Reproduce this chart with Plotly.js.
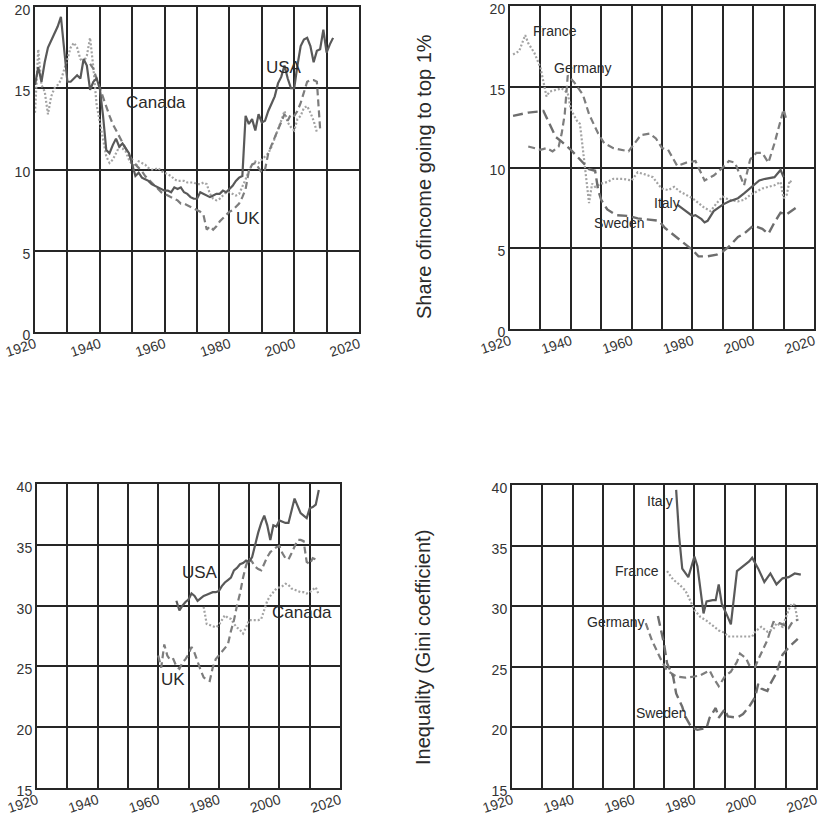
<!DOCTYPE html>
<html>
<head>
<meta charset="utf-8">
<script src="https://cdn.plot.ly/plotly-3.0.1.min.js"></script>
<style>
  html, body { margin: 0; padding: 0; background: #fff; }
  #chart { width: 821px; height: 818px; }
</style>
</head>
<body>
<div id="chart"></div>
<script>
// ---- Share of income going to top 1% : USA, Canada, UK ----
const usaTopYears = [1920,1921,1922,1923,1924,1925,1926,1927,1928,1929,1930,1931,1932,1933,1934,1935,1936,1937,1938,1939,
  1940,1941,1942,1943,1944,1945,1946,1947,1948,1949,1950,1951,1952,1953,1954,1955,1956,1957,1958,1959,
  1960,1961,1962,1963,1964,1965,1966,1967,1968,1969,1970,1971,1972,1973,1974,1975,1976,1977,1978,1979,
  1980,1981,1982,1983,1984,1985,1986,1987,1988,1989,1990,1991,1992,1993,1994,1995,1996,1997,1998,1999,
  2000,2001,2002,2003,2004,2005,2006,2007,2008,2009,2010,2011,2012];
const usaTop = [15.2,16.3,15.4,16.6,17.5,17.9,18.3,18.8,19.4,17.4,15.4,15.4,15.6,15.8,15.6,16.8,16.4,14.9,15.4,15.6,
  15.0,13.3,11.2,11.0,11.5,11.9,11.4,11.6,11.3,11.0,10.3,9.6,9.8,9.5,9.4,9.3,9.1,9.0,8.9,8.8,
  8.7,8.7,8.6,8.9,8.8,8.9,8.6,8.5,8.3,8.2,8.2,8.6,8.5,8.4,8.3,8.4,8.5,8.5,8.7,8.6,
  8.8,9.0,9.3,9.5,9.6,13.3,12.8,13.1,12.4,13.4,12.9,13.0,13.6,14.1,14.5,15.3,15.7,16.4,15.6,15.0,
  15.0,16.4,17.6,18.0,18.1,17.6,16.6,17.3,17.4,18.6,17.2,17.7,18.1];

const canadaTopYears = [1920,1921,1922,1923,1924,1925,1926,1927,1928,1929,1930,1931,1932,1933,1934,1935,1936,1937,1938,1939,
  1940,1941,1942,1943,1944,1945,1946,1947,1948,1949,1950,1951,1952,1953,1954,1955,1956,1957,1958,1959,
  1960,1961,1962,1963,1964,1965,1966,1967,1968,1969,1970,1971,1972,1973,1974,1975,1976,1977,1978,1979,
  1980,1981,1982,1983,1984,1985,1986,1987,1988,1989,1990,1991,1992,1993,1994,1995,1996,1997,1998,1999,
  2000,2001,2002,2003,2004,2005,2006,2007];
const canadaTop = [13.5,17.4,15.2,14.8,13.4,14.5,15.0,15.2,15.5,16.1,16.8,17.5,17.8,17.5,16.8,16.6,17.0,18.1,16.3,14.0,
  13.0,11.8,10.8,10.4,10.6,11.0,11.4,11.3,11.1,10.6,10.3,10.2,10.5,10.4,10.3,10.1,10.0,10.0,10.1,9.9,
  9.8,9.7,9.6,9.4,9.3,9.3,9.3,9.2,9.2,9.2,9.1,9.1,9.2,9.1,8.5,8.2,8.1,8.2,8.4,8.6,
  8.6,8.5,8.4,8.5,8.9,9.4,9.9,10.3,10.5,10.4,10.6,10.8,11.0,11.4,11.9,12.4,13.0,13.6,12.9,12.6,
  12.4,13.1,13.3,13.8,13.9,13.5,13.0,12.3];

const ukTopYears = [1937,1938,1939,1940,1941,1942,1943,1944,1945,1946,1947,1948,1949,1950,1951,1952,1953,1954,1955,1956,
  1957,1958,1959,1960,1961,1962,1963,1964,1965,1966,1967,1968,1969,1970,1971,1972,1973,1974,1975,1976,
  1977,1978,1979,1980,1981,1982,1983,1984,1985,1986,1987,1988,1989,1990,1991,1992,1993,1994,1995,1996,
  1997,1998,1999,2000,2001,2002,2003,2004,2005,2006,2007,2008];
const ukTop = [16.5,16.2,15.6,15.0,14.4,13.9,13.3,12.8,12.4,12.0,11.6,11.2,10.9,10.6,10.3,10.1,9.9,9.6,9.4,9.2,
  9.0,8.8,8.6,8.5,8.4,8.3,8.2,8.1,7.9,7.9,7.8,7.7,7.6,7.5,7.4,7.2,6.3,6.5,6.3,6.5,
  6.8,7.0,7.2,7.4,7.5,7.7,7.9,8.3,8.8,9.9,10.3,10.4,10.1,9.8,10.0,11.0,11.5,12.0,12.5,13.0,
  13.4,13.0,13.4,13.3,13.6,14.1,14.7,15.4,15.5,15.5,15.4,12.5];

// ---- Share of income going to top 1% : France, Germany, Italy, Sweden ----
const franceTopYears = [1921,1923,1925,1926,1928,1930,1932,1933,1935,1937,1939,1940,1942,1943,1944,1945,1946,1947,1948,1950,
  1952,1954,1957,1960,1962,1964,1967,1969,1970,1972,1974,1976,1978,1980,1982,1984,1986,1988,1990,1992,
  1995,1997,1999,2001,2003,2005,2007,2009,2010,2011,2012,2013];
const franceTop = [17.0,17.2,18.2,17.7,17.1,16.2,14.4,14.7,14.8,14.9,14.6,13.6,12.9,12.7,11.1,9.4,7.8,9.0,8.8,9.0,
  9.1,9.3,9.3,9.2,9.7,9.6,9.4,8.9,8.7,8.6,8.8,8.5,8.3,8.1,7.8,7.5,7.3,7.8,8.2,8.0,
  7.9,8.0,8.3,8.5,8.7,8.8,8.9,9.1,8.1,8.3,9.2,9.0];

const germanyTopYears = [1926,1930,1932,1934,1936,1937,1938,1939,1941,1944,1946,1949,1951,1954,1959,1961,1963,1966,1968,1970,
  1972,1975,1978,1981,1984,1987,1990,1992,1994,1997,1999,2001,2003,2005,2007,2010,2011];
const germanyTop = [11.3,11.1,11.2,11.0,11.3,12.1,13.3,15.7,15.3,14.5,13.3,12.1,11.5,11.2,11.0,11.5,12.0,12.1,11.8,11.2,
  11.1,10.1,10.3,10.4,9.2,9.5,10.0,10.4,10.3,8.9,10.5,10.9,10.9,10.3,11.5,13.6,12.9];

const swedenTopYears = [1921,1926,1931,1933,1935,1937,1940,1942,1944,1946,1948,1949,1950,1952,1955,1959,1962,1966,1969,1971,
  1974,1977,1980,1982,1985,1988,1990,1992,1995,1997,2000,2003,2005,2007,2009,2011,2014];
const swedenTop = [13.2,13.4,13.5,12.7,11.9,11.6,11.1,10.7,10.3,9.9,9.8,8.6,8.0,7.4,7.05,7.0,6.85,6.75,6.7,6.25,
  5.8,5.4,4.9,4.5,4.5,4.6,4.8,5.1,5.7,5.9,6.4,6.2,5.9,6.6,7.2,7.1,7.5];

const italyTopYears = [1975,1978,1980,1981,1983,1984,1985,1987,1990,1992,1995,1997,2000,2002,2004,2007,2009,2010];
const italyTop = [7.7,7.3,7.0,7.05,6.8,6.6,6.7,7.3,7.7,7.9,8.1,8.4,8.9,9.2,9.3,9.4,9.85,9.4];

// ---- Gini coefficient : USA, UK, Canada ----
const usaGiniYears = [1966,1967,1968,1969,1970,1971,1972,1973,1974,1975,1976,1977,1978,1979,1980,1981,1982,1983,1984,1985,
  1986,1987,1988,1989,1990,1991,1992,1993,1994,1995,1996,1997,1998,1999,2000,2001,2002,2003,2004,2005,
  2006,2007,2008,2009,2010,2011,2012,2013];
const usaGini = [30.4,29.6,30.0,30.3,30.5,31.0,30.8,30.4,30.6,30.8,30.9,31.0,31.1,31.1,31.2,31.6,31.9,32.1,32.3,32.9,
  33.1,33.4,33.5,33.7,33.6,34.0,35.1,36.0,36.8,37.4,36.6,35.4,36.6,36.5,37.0,36.9,36.8,36.8,37.8,38.8,
  38.2,37.6,37.4,37.2,38.0,38.1,38.3,39.5];

const ukGiniYears = [1960,1961,1962,1963,1964,1965,1966,1967,1968,1969,1970,1971,1972,1973,1974,1975,1976,1977,1978,1979,
  1980,1981,1982,1983,1984,1985,1986,1987,1988,1989,1990,1991,1992,1993,1994,1995,1996,1997,1998,1999,
  2000,2001,2002,2003,2004,2005,2006,2007,2008,2009,2010,2011,2012,2013];
const ukGini = [25.9,24.9,26.8,25.9,25.5,25.6,25.0,24.8,25.3,25.6,26.0,26.6,26.1,25.3,24.7,24.1,23.9,23.8,24.9,25.6,
  25.9,26.2,26.5,26.8,27.9,28.8,30.0,31.0,32.3,33.3,33.9,33.6,33.2,33.0,32.9,33.5,34.0,34.4,34.6,34.8,
  34.9,34.3,33.9,33.8,34.3,34.9,35.4,35.4,35.3,33.6,33.4,33.9,33.8,33.7];

const canadaGiniYears = [1975,1976,1977,1978,1979,1980,1981,1982,1983,1984,1985,1986,1987,1988,1989,1990,1991,1992,1993,1994,
  1995,1996,1997,1998,1999,2000,2001,2002,2003,2004,2005,2006,2007,2008,2009,2010,2011,2012,2013];
const canadaGini = [29.9,28.5,28.4,28.3,28.2,28.4,28.8,29.2,29.0,28.9,28.5,28.2,28.0,27.7,28.2,28.8,28.8,28.8,28.8,28.9,
  29.6,30.4,30.8,31.1,31.4,31.5,31.6,31.8,31.7,31.4,31.3,31.2,31.1,31.1,31.0,31.1,31.3,31.5,30.9];

// ---- Gini coefficient : Italy, France, Germany, Sweden ----
const italyGiniYears = [1974,1975,1976,1978,1980,1981,1983,1984,1986,1987,1988,1989,1991,1992,1994,1996,1998,1999,2001,2003,
  2005,2007,2009,2011,2013,2015];
const italyGini = [39.6,35.7,33.1,32.4,34.1,33.3,29.4,30.4,30.5,30.5,31.8,30.2,29.1,28.5,32.9,33.3,33.7,34.0,33.1,32.0,
  32.7,31.8,32.3,32.4,32.7,32.6];

const franceGiniYears = [1971,1973,1975,1977,1978,1980,1982,1984,1988,1990,1991,1995,1999,2000,2002,2004,2006,2007,2009,2011,
  2012,2013,2014];
const franceGini = [32.9,32.2,31.8,31.3,30.8,29.7,29.1,28.8,28.0,27.8,27.5,27.5,27.5,27.9,28.3,27.9,28.1,28.6,28.3,29.7,
  30.2,30.1,28.8];

const germanyGiniYears = [1964,1966,1969,1971,1974,1977,1980,1982,1985,1986,1988,1990,1992,1994,1995,1997,1998,2000,2001,2003,
  2004,2005,2006,2008,2010,2011,2012,2014];
const germanyGini = [28.6,27.2,25.6,24.7,24.2,24.1,24.2,24.3,24.7,24.2,23.4,24.2,24.6,25.4,26.1,25.7,25.15,25.0,25.6,26.7,
  27.2,28.0,28.7,28.6,28.4,28.2,28.6,28.9];

const swedenGiniYears = [1968,1970,1971,1973,1974,1976,1977,1979,1981,1984,1985,1987,1988,1990,1991,1994,1996,1998,2000,2001,
  2002,2004,2005,2007,2008,2009,2011,2014];
const swedenGini = [29.2,26.9,25.3,24.2,22.8,21.7,20.9,20.0,19.8,19.95,20.8,21.6,20.8,21.5,20.9,20.8,21.1,21.7,22.5,23.6,
  23.2,23.0,23.6,24.5,25.3,26.0,26.6,27.3];

// ---- axis ticks ----
const decadeTicks = [1920,1930,1940,1950,1960,1970,1980,1990,2000,2010,2020];
const decadeLabels = ['1920','','1940','','1960','','1980','','2000','','2020'];
const topShareTicks = [0,5,10,15,20];
const giniTicks = [15,20,25,30,35,40];

const axisTitleTop = 'Share ofincome going to top 1%';
const axisTitleGini = 'Inequality (Gini coefficient)';

// ---- styling ----
const FONT = 'Liberation Sans, Arial, Helvetica, sans-serif';
const INK = '#262626';
const W = 821, H = 818;

const solidStyle  = { color: '#595959', width: 2.2, dash: 'solid' };
const dottedStyle = { color: '#a3a3a3', width: 2.2, dash: '2px,2px' };
const dashedStyle = { color: '#7d7d7d', width: 2.2, dash: '7px,4px' };
const longDashStyle = { color: '#6e6e6e', width: 2.4, dash: '10px,5px' };

function series(x, y, style, xa, ya, name) {
  return { type: 'scatter', mode: 'lines', x: x, y: y, name: name,
           line: Object.assign({}, style), xaxis: xa, yaxis: ya,
           hoverinfo: 'skip', showlegend: false };
}

const traces = [
  series(canadaTopYears, canadaTop, dottedStyle, 'x', 'y', 'Canada'),
  series(ukTopYears, ukTop, dashedStyle, 'x', 'y', 'UK'),
  series(usaTopYears, usaTop, solidStyle, 'x', 'y', 'USA'),

  series(franceTopYears, franceTop, dottedStyle, 'x2', 'y2', 'France'),
  series(germanyTopYears, germanyTop, dashedStyle, 'x2', 'y2', 'Germany'),
  series(swedenTopYears, swedenTop, longDashStyle, 'x2', 'y2', 'Sweden'),
  series(italyTopYears, italyTop, solidStyle, 'x2', 'y2', 'Italy'),

  series(canadaGiniYears, canadaGini, dottedStyle, 'x3', 'y3', 'Canada'),
  series(ukGiniYears, ukGini, dashedStyle, 'x3', 'y3', 'UK'),
  series(usaGiniYears, usaGini, solidStyle, 'x3', 'y3', 'USA'),

  series(franceGiniYears, franceGini, dottedStyle, 'x4', 'y4', 'France'),
  series(germanyGiniYears, germanyGini, dashedStyle, 'x4', 'y4', 'Germany'),
  series(swedenGiniYears, swedenGini, longDashStyle, 'x4', 'y4', 'Sweden'),
  series(italyGiniYears, italyGini, solidStyle, 'x4', 'y4', 'Italy')
];

// panel boxes in pixels: [left, right, top, bottom]
const boxes = {
  tl: [35, 359, 7, 332],
  tr: [510, 814, 6, 329],
  bl: [37, 340, 484, 788],
  br: [512, 816, 485, 788]
};
const xDom = b => [b[0] / W, b[1] / W];
const yDom = b => [1 - b[3] / H, 1 - b[2] / H];

function xAxis(box, anchor) {
  return {
    domain: xDom(box), anchor: anchor, range: [1920, 2020],
    tickmode: 'array', tickvals: decadeTicks, ticktext: decadeLabels,
    tickangle: -18, ticks: '', showgrid: true, gridcolor: INK, gridwidth: 2,
    showline: true, linecolor: INK, linewidth: 2, mirror: true, zeroline: false,
    ticklabelstandoff: -3, ticklabeloverflow: 'allow',
    tickfont: { family: FONT, size: 14, color: '#333' }, fixedrange: true
  };
}
function yAxis(box, anchor, range, ticks) {
  return {
    domain: yDom(box), anchor: anchor, range: range,
    tickmode: 'array', tickvals: ticks, ticks: '', showgrid: true,
    gridcolor: INK, gridwidth: 2, showline: true, linecolor: INK, linewidth: 2,
    mirror: true, zeroline: false, ticklabelstandoff: 0, ticklabelshift: 3,
    ticklabeloverflow: 'allow',
    tickfont: { family: FONT, size: 14, color: '#333' }, fixedrange: true
  };
}

function label(text, x, y, xa, ya, size) {
  return { text: text, x: x, y: y, xref: xa, yref: ya, showarrow: false,
           xanchor: 'center', yanchor: 'middle',
           font: { family: FONT, size: size, color: '#2a2a2a' } };
}

const annotations = [
  label('Canada', 1957.3, 14.1, 'x', 'y', 17),
  label('USA', 1996.9, 16.3, 'x', 'y', 17),
  label('UK', 1985.7, 7.0, 'x', 'y', 17),

  label('France', 1934.8, 18.45, 'x2', 'y2', 14),
  label('Germany', 1944.0, 16.16, 'x2', 'y2', 14),
  label('Italy', 1971.6, 7.8, 'x2', 'y2', 14),
  label('Sweden', 1955.9, 6.56, 'x2', 'y2', 14),

  label('USA', 1973.8, 32.76, 'x3', 'y3', 17),
  label('Canada', 2007.5, 29.4, 'x3', 'y3', 17),
  label('UK', 1964.9, 23.9, 'x3', 'y3', 17),

  label('Italy', 1968.7, 38.7, 'x4', 'y4', 14),
  label('France', 1961.1, 32.9, 'x4', 'y4', 14),
  label('Germany', 1954.2, 28.7, 'x4', 'y4', 14),
  label('Sweden', 1969.3, 21.2, 'x4', 'y4', 14),

  { text: axisTitleTop, x: 424 / W, y: 1 - 176 / H, xref: 'paper', yref: 'paper',
    showarrow: false, textangle: -90, xanchor: 'center', yanchor: 'middle',
    font: { family: FONT, size: 20, color: '#2a2a2a' } },
  { text: axisTitleGini, x: 423 / W, y: 1 - 648 / H, xref: 'paper', yref: 'paper',
    showarrow: false, textangle: -90, xanchor: 'center', yanchor: 'middle',
    font: { family: FONT, size: 20, color: '#2a2a2a' } }
];

const layout = {
  width: W, height: H,
  margin: { l: 0, r: 0, t: 0, b: 0, pad: 0 },
  paper_bgcolor: '#ffffff', plot_bgcolor: '#ffffff',
  showlegend: false,
  xaxis: xAxis(boxes.tl, 'y'),
  yaxis: yAxis(boxes.tl, 'x', [0, 20], topShareTicks),
  xaxis2: xAxis(boxes.tr, 'y2'),
  yaxis2: yAxis(boxes.tr, 'x2', [0, 20], topShareTicks),
  xaxis3: xAxis(boxes.bl, 'y3'),
  yaxis3: yAxis(boxes.bl, 'x3', [15, 40], giniTicks),
  xaxis4: xAxis(boxes.br, 'y4'),
  yaxis4: yAxis(boxes.br, 'x4', [15, 40], giniTicks),
  annotations: annotations
};

Plotly.newPlot('chart', traces, layout, { displayModeBar: false, staticPlot: true });
</script>
</body>
</html>
